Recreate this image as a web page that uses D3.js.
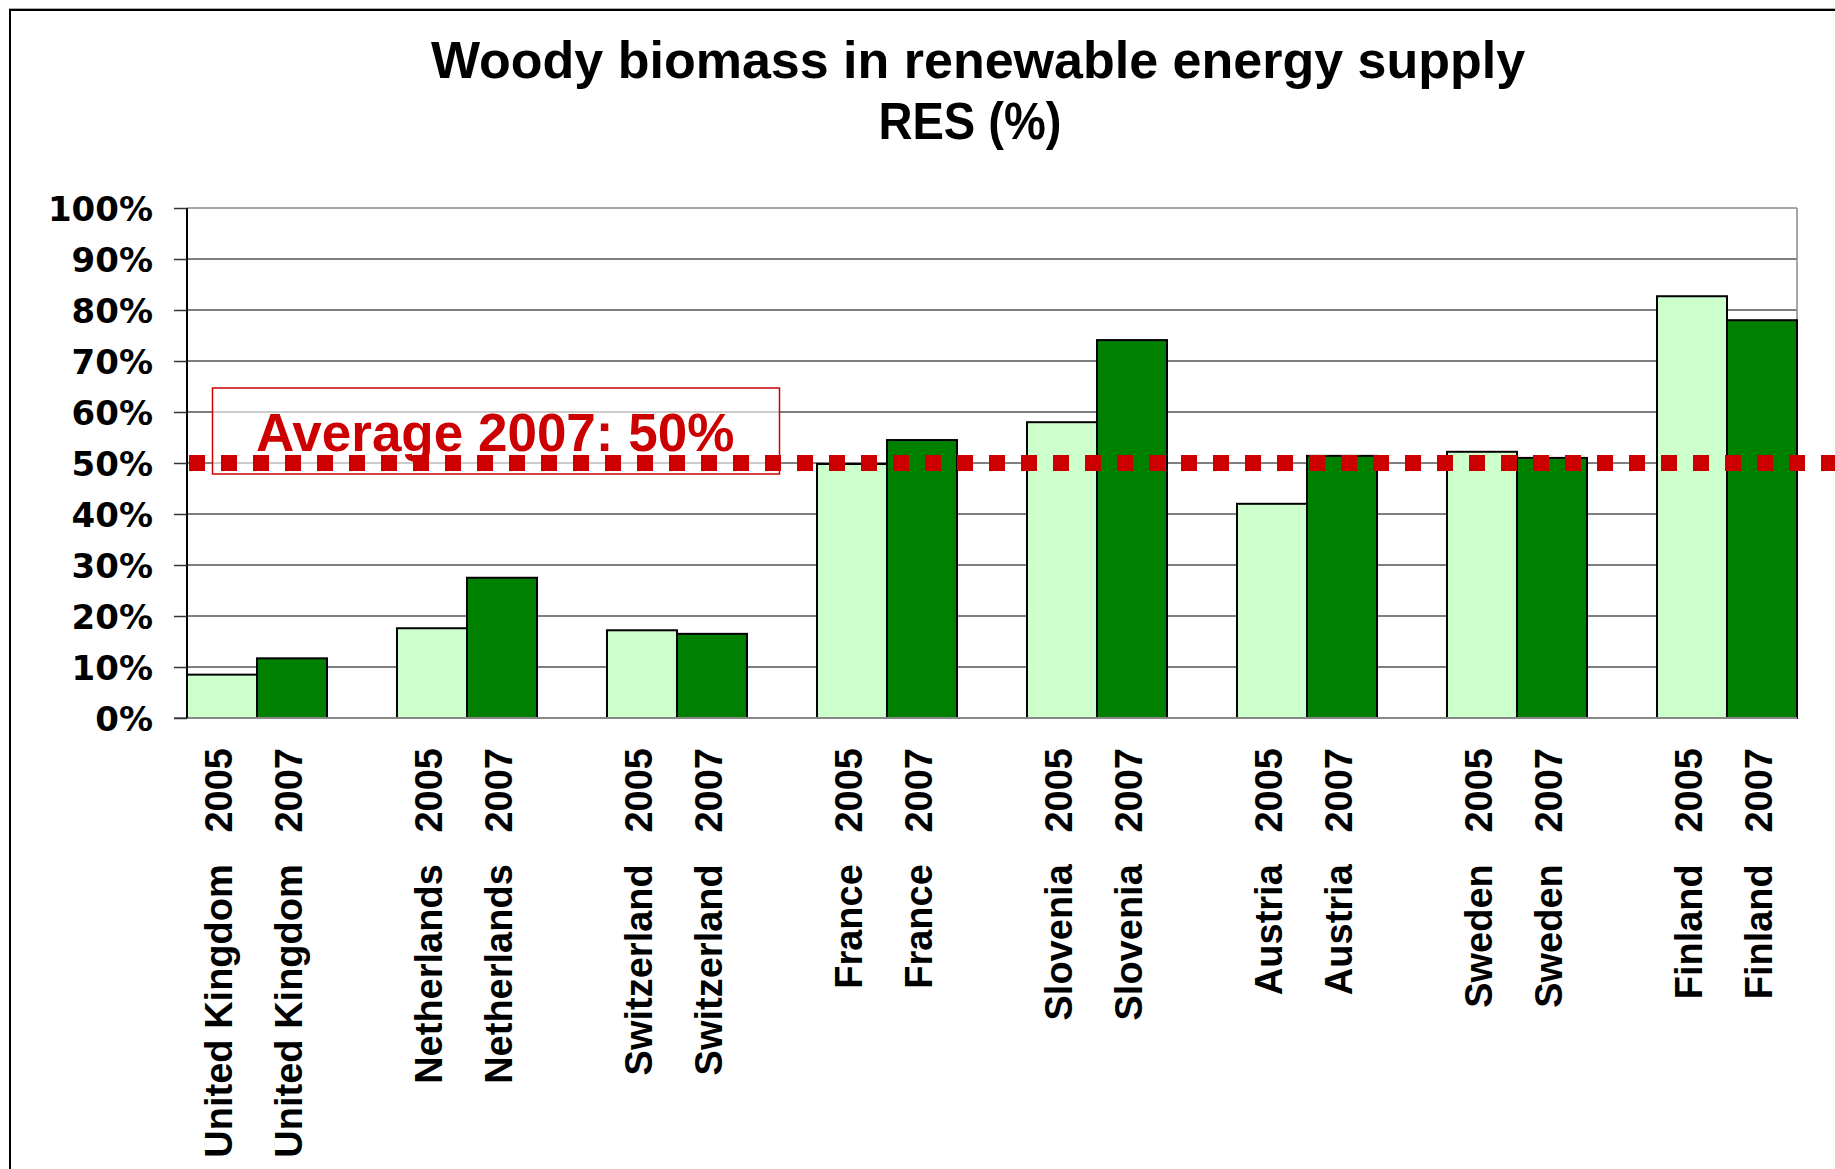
<!DOCTYPE html>
<html>
<head>
<meta charset="utf-8">
<script src="https://cdn.jsdelivr.net/npm/d3@7"></script>
<style>
  html, body { margin: 0; padding: 0; background: #fff; }
  svg { display: block; }
</style>
</head>
<body>
<svg id="chart" width="1835" height="1169"></svg>
<script>
// ---- data ----
const countries = ["United Kingdom", "Netherlands", "Switzerland", "France", "Slovenia", "Austria", "Sweden", "Finland"];
const years = ["2005", "2007"];
const values2005 = [8.5, 17.6, 17.2, 49.8, 58.0, 42.0, 52.2, 82.7];
const values2007 = [11.7, 27.5, 16.5, 54.5, 74.1, 51.4, 51.0, 78.0];
const average2007 = 50;
const yTicks = [0, 10, 20, 30, 40, 50, 60, 70, 80, 90, 100];
const titleLines = ["Woody biomass in renewable energy supply", "RES (%)"];
const annotationText = "Average 2007: 50%";

// ---- build category table (with blank spacer slots) ----
const rows = [];
const domain = [];
countries.forEach((c, i) => {
  rows.push({ key: c + "|2005", country: c, year: years[0], value: values2005[i] });
  rows.push({ key: c + "|2007", country: c, year: years[1], value: values2007[i] });
  domain.push(c + "|2005", c + "|2007");
  if (i < countries.length - 1) domain.push("gap" + i);
});

const svg = d3.select("#chart");
const W = 1835, H = 1169;

// frame
svg.append("rect").attr("x", 10).attr("y", 10).attr("width", W + 20).attr("height", H + 20)
  .attr("fill", "#fff").attr("stroke", "#000").attr("stroke-width", 2);
svg.append("line").attr("x1", 9).attr("x2", W).attr("y1", 8.5).attr("y2", 8.5)
  .attr("stroke", "#aaa").attr("stroke-width", 1);

const x = d3.scaleBand().domain(domain).range([187, 1797]).padding(0);
const y = d3.scaleLinear().domain([0, 100]).range([718, 208]);

// gridlines
svg.append("g").selectAll("line").data(yTicks.filter(t => t > 0)).join("line")
  .attr("x1", 187).attr("x2", 1797)
  .attr("y1", d => y(d)).attr("y2", d => y(d))
  .attr("stroke", d => d === 100 ? "#888" : "#555").attr("stroke-width", 1.5);

// plot right border
svg.append("line").attr("x1", 1797).attr("x2", 1797).attr("y1", y(100)).attr("y2", y(0))
  .attr("stroke", "#888").attr("stroke-width", 1.5);

// bars
svg.append("g").selectAll("rect").data(rows).join("rect")
  .attr("x", d => x(d.key))
  .attr("width", x.bandwidth())
  .attr("y", d => y(d.value))
  .attr("height", d => y(0) - y(d.value))
  .attr("fill", d => d.year === "2005" ? "#CCFFCC" : "#008000")
  .attr("stroke", "#000").attr("stroke-width", 2);

// bottom axis line
svg.append("line").attr("x1", 174).attr("x2", 1797).attr("y1", y(0)).attr("y2", y(0))
  .attr("stroke", "#888").attr("stroke-width", 2);

// left axis
const yAxis = d3.axisLeft(y).tickValues(yTicks).tickSize(13).tickFormat(d => d + "%");
const gy = svg.append("g").attr("transform", "translate(187,0)").call(yAxis);
gy.select(".domain").attr("stroke", "#000").attr("stroke-width", 2).attr("d", `M0,${y(100)}V${y(0)}`);
gy.selectAll(".tick line").attr("stroke", "#333").attr("stroke-width", 1.5);
gy.selectAll(".tick text")
  .attr("x", -34).attr("dy", null).attr("y", 12)
  .attr("text-anchor", "end")
  .attr("font-family", "'DejaVu Sans', sans-serif")
  .attr("font-weight", "bold").attr("font-size", 34).attr("fill", "#000");

// annotation box
svg.append("rect").attr("x", 212.5).attr("y", 388).attr("width", 567).attr("height", 86)
  .attr("fill", "#fff").attr("fill-opacity", 0.6)
  .attr("stroke", "#CC0000").attr("stroke-width", 1.5);

// average dashed line
svg.append("line")
  .attr("x1", x.range()[0] + 2).attr("x2", W + 10)
  .attr("y1", y(average2007)).attr("y2", y(average2007))
  .attr("stroke", "#CC0000").attr("stroke-width", 16)
  .attr("stroke-dasharray", "16 16");

svg.append("text").attr("x", 256).attr("y", 451)
  .attr("font-family", "'Liberation Sans', Arial, sans-serif")
  .attr("font-weight", "bold").attr("font-size", 53).attr("fill", "#CC0000")
  .text(annotationText);

// category labels (rotated)
svg.append("g").selectAll("text").data(rows).join("text")
  .attr("transform", d => `translate(${x(d.key) + x.bandwidth() / 2 + 10},748) rotate(-90)`)
  .attr("text-anchor", "end")
  .attr("font-family", "'Liberation Sans', Arial, sans-serif")
  .attr("font-weight", "bold").attr("font-size", 38).attr("fill", "#000")
  .text(d => d.country + "\u00A0\u00A0\u00A0" + d.year);

// title
svg.append("text").attr("x", 978).attr("y", 78).attr("text-anchor", "middle")
  .attr("font-family", "'Liberation Sans', Arial, sans-serif")
  .attr("font-weight", "bold").attr("font-size", 52).attr("fill", "#000")
  .text(titleLines[0]);
svg.append("text").attr("x", 970).attr("y", 139).attr("text-anchor", "middle")
  .attr("font-family", "'Liberation Sans', Arial, sans-serif")
  .attr("font-weight", "bold").attr("font-size", 52).attr("fill", "#000")
  .attr("textLength", 183).attr("lengthAdjust", "spacingAndGlyphs")
  .text(titleLines[1]);
</script>
</body>
</html>
